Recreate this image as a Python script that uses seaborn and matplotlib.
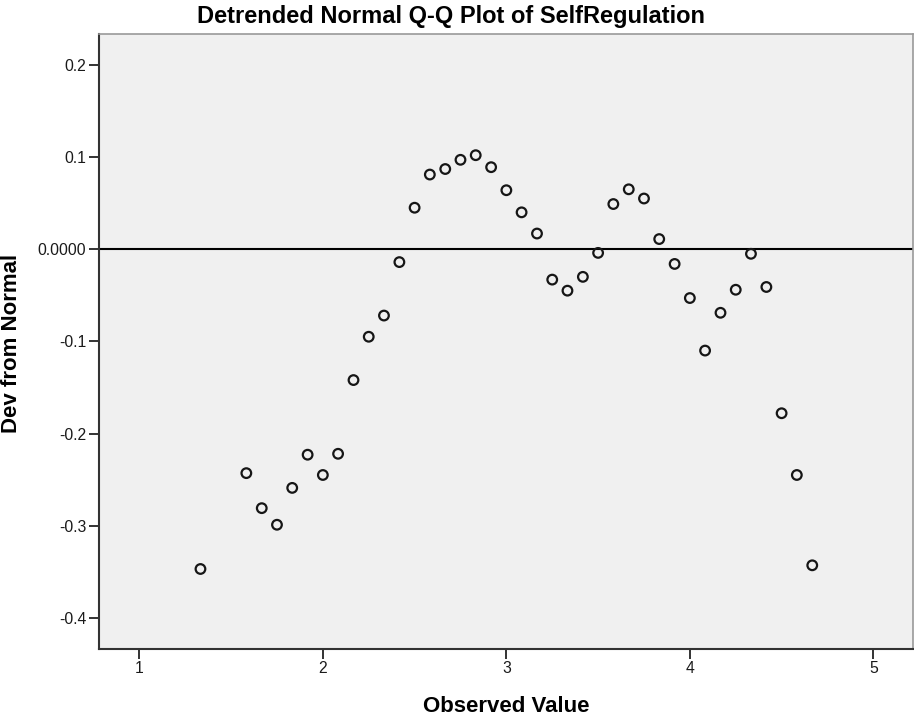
import matplotlib
matplotlib.use("Agg")
import matplotlib.pyplot as plt
import seaborn as sns
import pandas as pd

# Observed scale scores and their detrended deviations from the normal line
observed = [1.333, 1.583, 1.667, 1.750, 1.833, 1.917, 2.000, 2.083, 2.167,
            2.250, 2.333, 2.417, 2.500, 2.583, 2.667, 2.750, 2.833, 2.917,
            3.000, 3.083, 3.167, 3.250, 3.333, 3.417, 3.500, 3.583, 3.667,
            3.750, 3.833, 3.917, 4.000, 4.083, 4.167, 4.250, 4.333, 4.417,
            4.500, 4.583, 4.667]
deviation = [-0.347, -0.243, -0.281, -0.299, -0.259, -0.223, -0.245, -0.222,
             -0.142, -0.095, -0.072, -0.014, 0.045, 0.081, 0.087, 0.097,
             0.102, 0.089, 0.064, 0.040, 0.017, -0.033, -0.045, -0.030,
             -0.004, 0.049, 0.065, 0.055, 0.011, -0.016, -0.053, -0.110,
             -0.069, -0.044, -0.005, -0.041, -0.178, -0.245, -0.343]

x_ticks = [1, 2, 3, 4, 5]
y_ticks = [-0.4, -0.3, -0.2, -0.1, 0.0, 0.1, 0.2]
y_tick_labels = ["-0.4", "-0.3", "-0.2", "-0.1", "0.0000", "0.1", "0.2"]

df = pd.DataFrame({"Observed Value": observed, "Dev from Normal": deviation})

sns.set_style("white")
plt.rcParams["font.family"] = ["Liberation Sans", "DejaVu Sans"]

fig = plt.figure(figsize=(9.14, 7.16), dpi=100)
ax = fig.add_axes([0.1083, 0.0936, 0.8906, 0.8589])
ax.set_facecolor("#F0F0F0")

# reference line at zero deviation
ax.axhline(0.0, color="black", linewidth=1.5, zorder=1)

sns.scatterplot(data=df, x="Observed Value", y="Dev from Normal", ax=ax,
                marker="o", s=48, facecolor="none", edgecolor="#161616",
                linewidth=1.6, zorder=3)

ax.set_xlim(0.78, 5.216)
ax.set_ylim(-0.4338, 0.2335)
ax.set_xticks(x_ticks)
ax.set_xticklabels([str(t) for t in x_ticks])
ax.set_yticks(y_ticks)
ax.set_yticklabels(y_tick_labels)

ax.tick_params(axis="both", direction="out", length=7, width=1.4,
               color="#333333", labelsize=11.3, labelcolor="#1a1a1a",
               left=True, bottom=True)
ax.tick_params(axis="x", pad=1.5)
ax.tick_params(axis="y", pad=2)

for side in ("left", "bottom"):
    ax.spines[side].set_color("#333333")
    ax.spines[side].set_linewidth(1.5)
for side in ("top", "right"):
    ax.spines[side].set_color("#999999")
    ax.spines[side].set_linewidth(1.2)

ax.set_xlabel("")
ax.set_ylabel("")
fig.text(0.5536, 0.0056, "Observed Value", fontsize=16, fontweight="bold",
         color="black", ha="center", va="baseline")
fig.text(0.0126, 0.5203, "Dev from Normal", fontsize=16, fontweight="bold",
         color="black", rotation=90, ha="center", va="center")
fig.text(0.4934, 0.968, "Detrended Normal Q-Q Plot of SelfRegulation",
         fontsize=17, fontweight="bold", color="black",
         ha="center", va="baseline")

fig.savefig("out.png", dpi=100)
